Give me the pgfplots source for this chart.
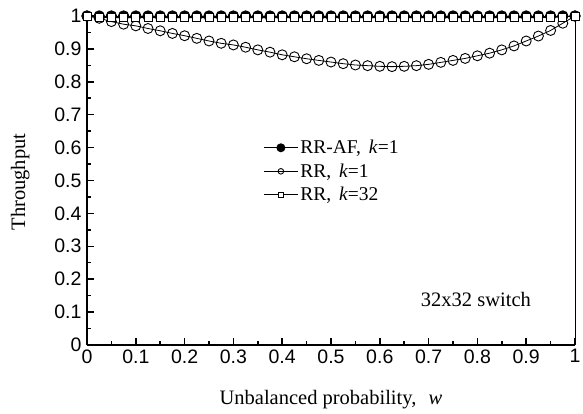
\documentclass[border=0pt]{standalone}
\usepackage{fontspec}
\setmainfont{Liberation Serif}
\setsansfont{Liberation Sans}
\usepackage{pgfplots}
\pgfplotsset{compat=1.18}

\begin{document}
\begin{tikzpicture}
\begin{axis}[
  scale only axis,
  width=488pt, height=329pt,
  xmin=0, xmax=1, ymin=0, ymax=1,
  clip=false,
  axis x line*=bottom, axis y line*=left,
  axis line style={line width=1.8pt, -},
  tick align=inside,
  major tick length=7pt, minor tick length=4pt,
  tick style={line width=1.5pt, black},
  xtick={0,0.1,...,1.01}, ytick={0,0.1,...,1.01},
  minor x tick num=1, minor y tick num=1,
  /pgf/number format/assume math mode=true,
  ticklabel style={font=\fontsize{19.5}{19.5}\sffamily},
  xticklabel style={yshift=-1pt},
  yticklabel style={xshift=-2pt},
  label style={font=\fontsize{20.5}{20.5}\selectfont},
  xlabel={Unbalanced probability,\hspace{0.6em}\textit{w}},
  ylabel={Throughput},
  xlabel style={at={(rel axis cs:0.5,-0.167)}, anchor=center},
  ylabel style={at={(rel axis cs:-0.137,0.495)}, anchor=center},
  legend style={at={(rel axis cs:0.355,0.635)}, anchor=north west, draw=none, fill=none,
    font=\fontsize{19.5}{19.5}\selectfont, row sep=4.5pt},
  legend cell align=left,
  legend image code/.code={\draw[mark repeat=2,mark phase=2] plot coordinates {(0pt,0pt) (17pt,0pt) (34pt,0pt)};},
]

% RR-AF, k=1
\addplot[black, line width=0.9pt, mark=*, mark size=5.2pt,
  mark options={fill=black, line width=0.9pt},
  legend image post style={mark size=4pt}] coordinates {
  (0,1) (0.025,1) (0.05,1) (0.075,1) (0.1,1) (0.125,1) (0.15,1) (0.175,1)
  (0.2,1) (0.225,1) (0.25,1) (0.275,1) (0.3,1) (0.325,1) (0.35,1) (0.375,1)
  (0.4,1) (0.425,1) (0.45,1) (0.475,1) (0.5,1) (0.525,1) (0.55,1) (0.575,1)
  (0.6,1) (0.625,1) (0.65,1) (0.675,1) (0.7,1) (0.725,1) (0.75,1) (0.775,1)
  (0.8,1) (0.825,1) (0.85,1) (0.875,1) (0.9,1) (0.925,1) (0.95,1) (0.975,1)
  (1,1)
};
\addlegendentry{RR-AF,\hspace{0.4em}\textit{k}=1}

% RR, k=1
\addplot[black, line width=0.8pt, mark=o, mark size=5pt,
  mark options={fill=white, line width=0.9pt},
  legend image post style={mark size=2.8pt}] coordinates {
  (0,1.0) (0.025,0.993) (0.05,0.983) (0.075,0.975) (0.1,0.970) (0.125,0.962)
  (0.15,0.955) (0.175,0.947) (0.2,0.940) (0.225,0.932) (0.25,0.924) (0.275,0.917)
  (0.3,0.912) (0.325,0.905) (0.35,0.897) (0.375,0.890) (0.4,0.882) (0.425,0.876)
  (0.45,0.870) (0.475,0.865) (0.5,0.860) (0.525,0.855) (0.55,0.851) (0.575,0.849)
  (0.6,0.847) (0.625,0.846) (0.65,0.847) (0.675,0.849) (0.7,0.853) (0.725,0.859)
  (0.75,0.865) (0.775,0.871) (0.8,0.879) (0.825,0.887) (0.85,0.897) (0.875,0.909)
  (0.9,0.924) (0.925,0.939) (0.95,0.956) (0.975,0.978) (1,1.0)
};
\addlegendentry{RR,\hspace{0.4em}\textit{k}=1}

% RR, k=32
\addplot[black, line width=0.8pt, mark=square*, mark size=4pt,
  mark options={fill=white, line width=0.9pt},
  legend image post style={mark size=2.4pt}] coordinates {
  (0,1.0) (0.025,0.996) (0.05,0.995) (0.075,0.995) (0.1,0.995) (0.125,0.995)
  (0.15,0.995) (0.175,0.995) (0.2,0.995) (0.225,0.995) (0.25,0.995) (0.275,0.995)
  (0.3,0.995) (0.325,0.995) (0.35,0.995) (0.375,0.995) (0.4,0.995) (0.425,0.995)
  (0.45,0.995) (0.475,0.995) (0.5,0.995) (0.525,0.995) (0.55,0.995) (0.575,0.995)
  (0.6,0.995) (0.625,0.995) (0.65,0.995) (0.675,0.995) (0.7,0.995) (0.725,0.995)
  (0.75,0.995) (0.775,0.995) (0.8,0.995) (0.825,0.995) (0.85,0.995) (0.875,0.995)
  (0.9,0.995) (0.925,0.995) (0.95,0.996) (0.975,0.997) (1,1.0)
};
\addlegendentry{RR,\hspace{0.4em}\textit{k}=32}

\draw[line width=0.6pt] (rel axis cs:1,0) -- (rel axis cs:1,1);
\node[font=\fontsize{20.5}{20.5}\selectfont, anchor=center] at (rel axis cs:0.797,0.137) {32x32 switch};

\coordinate (bbsw) at (rel axis cs:-0.1783,-0.2097);
\coordinate (bbne) at (rel axis cs:1.0164,1.0486);
\end{axis}
\pgfresetboundingbox
\path[use as bounding box] (bbsw) rectangle (bbne);
\end{tikzpicture}
\end{document}
